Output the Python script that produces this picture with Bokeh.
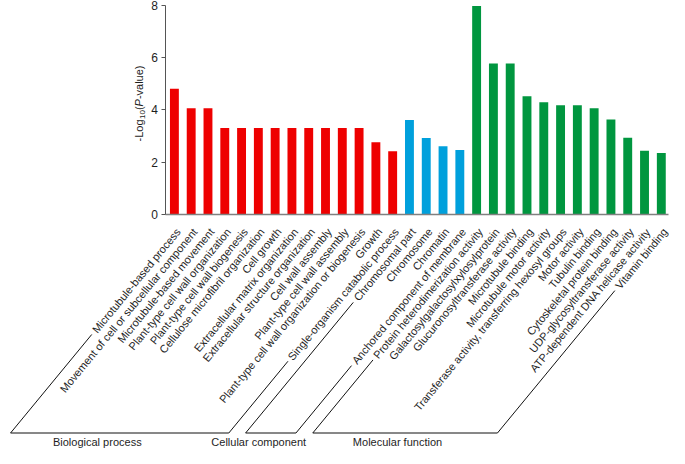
import math
from bokeh.plotting import figure
from bokeh.models import LinearAxis, FixedTicker, Label, Range1d
from bokeh.core.properties import value
from bokeh.embed import file_html
from bokeh.resources import INLINE

# ---------------- data ----------------
bp_terms = [
    "Microtubule-based process",
    "Movement of cell or subcellular component",
    "Microtubule-based movement",
    "Plant-type cell wall organization",
    "Plant-type cell wall biogenesis",
    "Cellulose microfibril organization",
    "Cell growth",
    "Extracellular matrix organization",
    "Extracellular structure organization",
    "Cell wall assembly",
    "Plant-type cell wall assembly",
    "Plant-type cell wall organization or biogenesis",
    "Growth",
    "Single-organism catabolic process",
]
bp_values = [4.81, 4.07, 4.07, 3.31, 3.31, 3.31, 3.31, 3.31, 3.31, 3.31, 3.31, 3.31, 2.77, 2.42]

cc_terms = [
    "Chromosomal part",
    "Chromosome",
    "Chromatin",
    "Anchored component of membrane",
]
cc_values = [3.62, 2.93, 2.61, 2.47]

mf_terms = [
    "Protein heterodimerization activity",
    "Galactosylgalactosylxylosylprotein",
    "Glucuronosyltransferase activity",
    "Microtubule binding",
    "Microtubule motor activity",
    "Transferase activity, transferring hexosyl groups",
    "Motor activity",
    "Tubulin binding",
    "Cytoskeletal protein binding",
    "UDP-glycosyltransferase activity",
    "ATP-dependent DNA helicase activity",
    "Vitamin binding",
]
mf_values = [7.97, 5.78, 5.78, 4.52, 4.30, 4.18, 4.18, 4.07, 3.64, 2.94, 2.44, 2.36]

group_names = ["Biological process", "Cellular component", "Molecular function"]
group_colors = ["#EE0000", "#00A0DC", "#00963F"]
y_ticks = [0, 2, 4, 6, 8]

groups = [bp_terms, cc_terms, mf_terms]
group_vals = [bp_values, cc_values, mf_values]

terms, values, colors = [], [], []
for g, (t, v) in enumerate(zip(groups, group_vals)):
    terms += t
    values += v
    colors += [group_colors[g]] * len(t)
idx = list(range(len(terms)))

# ---------------- layout (pixels) ----------------
W, H = 669, 448
X0, KX = 173.9, 16.79      # px of category 0, px per category
Y0, KY = 214.2, 26.18      # px of value 0 (from top), px per unit
AXIS_PX = 165.3
FONT = "Liberation Sans"
TXT = "#1e1e1e"
THETA = math.radians(50.5)
LABEL_FS = 11
ANCHOR_DX, ANCHOR_Y = 3.9, 229.0
BASE_Y = 432.5
TITLE_Y = 441.0
TITLE_X = [96.8, 258.2, 397.0]


def dx(px):
    return (px - X0) / KX


def dy(py):
    return (Y0 - py) / KY


# Arial / Liberation Sans advance widths (per 1000 em)
_w = {" ": 278, "-": 333, ",": 278, "(": 333, ")": 333,
      "a": 556, "b": 556, "c": 500, "d": 556, "e": 556, "f": 278, "g": 556, "h": 556,
      "i": 222, "j": 222, "k": 500, "l": 222, "m": 833, "n": 556, "o": 556, "p": 556,
      "q": 556, "r": 333, "s": 500, "t": 278, "u": 556, "v": 500, "w": 722, "x": 500,
      "y": 500, "z": 500, "A": 667, "B": 667, "C": 722, "D": 722, "E": 667, "G": 778,
      "M": 833, "P": 667, "T": 611, "U": 722, "V": 667, "0": 556, "1": 556}


def text_w(s, fs):
    return sum(_w.get(c, 600) for c in s) * fs / 1000.0


p = figure(width=W, height=H, x_range=Range1d(dx(0), dx(W)), y_range=Range1d(dy(H), dy(0)),
           output_backend="svg", toolbar_location=None, min_border=0,
           outline_line_color=None, background_fill_color="white", border_fill_color="white")
p.xaxis.visible = False
p.grid.visible = False

ya = p.yaxis[0]
ya.fixed_location = dx(AXIS_PX)
ya.bounds = (0, 8)
ya.ticker = FixedTicker(ticks=y_ticks)
ya.axis_line_color = "#555555"
ya.major_tick_line_color = "#555555"
ya.major_tick_out = 4
ya.major_tick_in = 0
ya.minor_tick_out = 0
ya.minor_tick_in = 0
ya.major_label_text_font = FONT
ya.major_label_text_font_size = "12px"
ya.major_label_text_color = TXT
ya.major_label_standoff = 4

xb = LinearAxis(fixed_location=0, bounds=(dx(AXIS_PX), dx(668.0)), ticker=FixedTicker(ticks=[]),
                axis_line_color="#808080", axis_line_width=1.5,
                major_tick_out=0, major_tick_in=0, minor_tick_out=0, minor_tick_in=0,
                major_label_text_font_size="0px")
p.add_layout(xb, "below")

p.vbar(x=idx, top=values, width=0.53, fill_color=colors, line_color=None)

# rotated category labels
p.text(x=[i + ANCHOR_DX / KX for i in idx], y=[dy(ANCHOR_Y)] * len(idx), text=terms,
       angle=THETA, text_align="right", text_baseline="middle",
       text_font=value(FONT), text_font_size=f"{LABEL_FS}px", text_color=TXT)

# group brackets
c, s = math.cos(THETA), math.sin(THETA)
start = 0
for g, t in enumerate(groups):
    first, last = start, start + len(t) - 1
    pts = []
    for i in (first, last):
        ax = X0 + KX * i + ANCHOR_DX
        L = text_w(terms[i], LABEL_FS) + 4
        tx, ty = ax - L * c, ANCHOR_Y + L * s
        tt = (BASE_Y - ty) / s
        bx = tx - tt * c
        pts.append((tx, ty, bx))
    (tx1, ty1, bx1), (tx2, ty2, bx2) = pts
    xs = [dx(tx1), dx(bx1), dx(bx2), dx(tx2)]
    ys = [dy(ty1), dy(BASE_Y), dy(BASE_Y), dy(ty2)]
    p.line(xs, ys, line_color="#111111", line_width=1)
    start = last + 1

p.text(x=[dx(v) for v in TITLE_X], y=[dy(TITLE_Y)] * 3, text=group_names,
       text_align="center", text_baseline="middle",
       text_font=value(FONT), text_font_size="11px", text_color=TXT)

# y-axis title: -Log10(P-value)
YL_X, YL_CY = 138.6, 103.0
pieces = [("-Log", 11, "normal", 0), ("10", 8, "normal", 3), ("(", 11, "normal", 0),
          ("P", 11, "italic", 0), ("-value)", 11, "normal", 0)]
total = sum(text_w(t, fs) for t, fs, _, _ in pieces)
ycur = YL_CY + total / 2
for t, fs, style, shift in pieces:
    p.add_layout(Label(x=dx(YL_X + shift), y=dy(ycur), text=t, angle=math.pi / 2,
                       text_align="left", text_baseline="middle", text_font=FONT,
                       text_font_size=f"{fs}px", text_font_style=style, text_color=TXT))
    ycur -= text_w(t, fs)

open("out.html", "w").write(file_html(p, INLINE))
